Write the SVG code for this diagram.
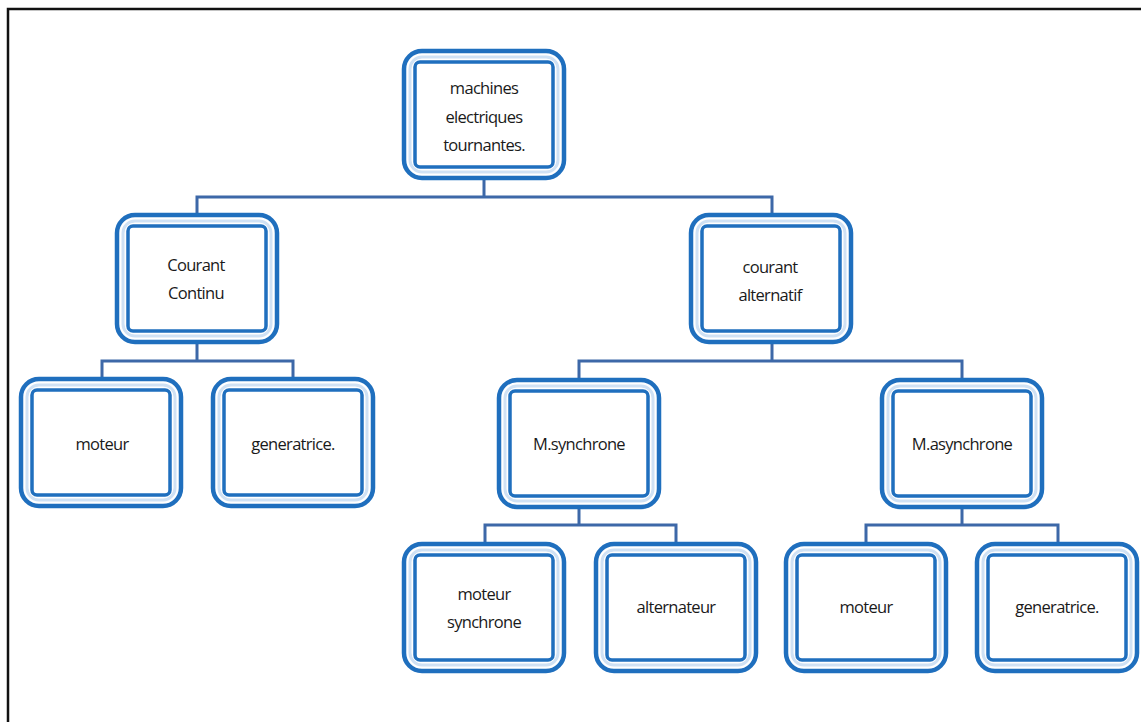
<svg xmlns="http://www.w3.org/2000/svg" width="1141" height="722" viewBox="0 0 1141 722">
<style>
.o{fill:#fff;stroke:#1f6fbe;stroke-width:4.5}
.g{fill:none;stroke:#cfe1f4;stroke-width:3}
.i{fill:none;stroke:#1f6fbe;stroke-width:3.5}
.c{fill:none;stroke:#3d68a8;stroke-width:3}
text{font-family:"Open Sans","Liberation Sans",sans-serif;font-size:16.5px;fill:#1a1a1a;text-anchor:middle;letter-spacing:-0.7px}
</style>
<defs>
<g id="box">
<rect class="o" x="0" y="0" width="160" height="127" rx="18"/>
<rect class="g" x="6" y="6" width="148" height="115" rx="12"/>
<rect class="i" x="11" y="11" width="138" height="105" rx="5"/>
</g>
</defs>
<rect width="1141" height="722" fill="#fff"/>
<path d="M8,722 V9 H1141" fill="none" stroke="#111" stroke-width="2.5"/>
<g id="connectors">
<path class="c" d="M484,178 V197 M197,215 V197 H772 V215"/>
<path class="c" d="M197,343 V361 M102,379 V361 H293 V379"/>
<path class="c" d="M772,343 V361 M579,380 V361 H962 V380"/>
<path class="c" d="M579,507 V525 M485,543 V525 H676 V543"/>
<path class="c" d="M962,507 V525 M866,543 V525 H1058 V543"/>
</g>
<g id="n-root"><use href="#box" x="404" y="51"/><text x="484" y="94">machines</text><text x="484" y="123">electriques</text><text x="484" y="151">tournantes.</text></g>
<g id="n-cc"><use href="#box" x="117" y="215"/><text x="196" y="271">Courant</text><text x="196" y="299">Continu</text></g>
<g id="n-ca"><use href="#box" x="691" y="215"/><text x="770" y="273">courant</text><text x="770" y="301">alternatif</text></g>
<g id="n-mot1"><use href="#box" x="21" y="379"/><text x="102" y="450">moteur</text></g>
<g id="n-gen1"><use href="#box" x="213" y="379"/><text x="293" y="450">generatrice.</text></g>
<g id="n-ms"><use href="#box" x="499" y="380"/><text x="579" y="450">M.synchrone</text></g>
<g id="n-mas"><use href="#box" x="882" y="380"/><text x="962" y="450">M.asynchrone</text></g>
<g id="n-motsync"><use href="#box" x="404" y="544"/><text x="484" y="600">moteur</text><text x="484" y="628">synchrone</text></g>
<g id="n-alt"><use href="#box" x="596" y="544"/><text x="676" y="613">alternateur</text></g>
<g id="n-mot2"><use href="#box" x="786" y="544"/><text x="866" y="613">moteur</text></g>
<g id="n-gen2"><use href="#box" x="977" y="544"/><text x="1057" y="613">generatrice.</text></g>
</svg>
